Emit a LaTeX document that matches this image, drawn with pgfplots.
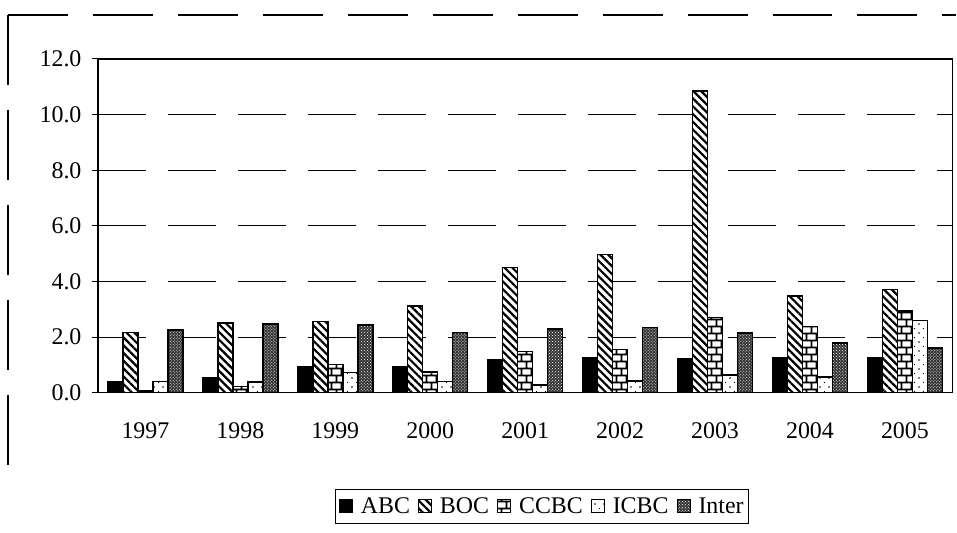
\documentclass[border=0pt]{standalone}
\usepackage{pgfplots}
\pgfplotsset{compat=1.18}
\usepackage{fontspec}
\setmainfont{Liberation Serif}
\usetikzlibrary{patterns,patterns.meta}

\tikzdeclarepattern{
  name=mybricks,
  type=uncolored,
  bounding box={(0,0) and (10bp,14bp)},
  tile size={(10bp,14bp)},
  code={
    \pgfsetlinewidth{1.6bp}
    \pgfpathmoveto{\pgfqpoint{0bp}{3.5bp}}\pgfpathlineto{\pgfqpoint{10bp}{3.5bp}}
    \pgfpathmoveto{\pgfqpoint{0bp}{10.5bp}}\pgfpathlineto{\pgfqpoint{10bp}{10.5bp}}
    \pgfpathmoveto{\pgfqpoint{2.5bp}{3.5bp}}\pgfpathlineto{\pgfqpoint{2.5bp}{10.5bp}}
    \pgfpathmoveto{\pgfqpoint{7.5bp}{10.5bp}}\pgfpathlineto{\pgfqpoint{7.5bp}{14bp}}
    \pgfpathmoveto{\pgfqpoint{7.5bp}{0bp}}\pgfpathlineto{\pgfqpoint{7.5bp}{3.5bp}}
    \pgfusepath{stroke}
  }
}
\tikzdeclarepattern{
  name=sparsedots,
  type=uncolored,
  bounding box={(0,0) and (9bp,9bp)},
  tile size={(9bp,9bp)},
  code={
    \pgfpathcircle{\pgfqpoint{2bp}{2bp}}{0.9bp}
    \pgfpathcircle{\pgfqpoint{6.5bp}{6.5bp}}{0.6bp}
    \pgfusepath{fill}
  }
}

\pgfplotstableread{
x ABC BOC CCBC ICBC Inter
0 0.39 2.17 0.07 0.41 2.26
1 0.55 2.50 0.22 0.39 2.47
2 0.93 2.57 1.02 0.73 2.43
3 0.95 3.12 0.74 0.41 2.16
4 1.19 4.51 1.48 0.28 2.30
5 1.25 4.97 1.55 0.43 2.34
6 1.24 10.85 2.70 0.64 2.15
7 1.25 3.48 2.38 0.57 1.79
8 1.25 3.71 2.94 2.60 1.61
}\datatable

\begin{document}
\begin{tikzpicture}
\begin{axis}[
  at={(0,0)}, anchor=south west,
  scale only axis,
  width=855bp, height=334bp,
  ybar=0pt, bar width=15bp,
  xmin=-0.5, xmax=8.5,
  ymin=0, ymax=12,
  ytick={0,2,...,12},
  xtick={0,...,8},
  xticklabels={1997,1998,1999,2000,2001,2002,2003,2004,2005},
  x tick style={draw=none},
  extra x ticks={0.5,1.5,...,7.5},
  extra x tick labels={},
  extra x tick style={tick style={draw=black, line width=1bp}, major tick length=5bp, tick align=outside, grid=none},
  y tick style={draw=black, line width=1bp},
  major tick length=6bp,
  tick align=outside,
  tick pos=left,
  ymajorgrids,
  major grid style={draw=black, line width=1.2bp, dash pattern=on 48bp off 22bp},
  axis line style={line width=1.3bp},
  tick label style={font=\fontsize{24}{28}\selectfont},
  xticklabel style={yshift=-20bp},
  yticklabel style={xshift=-7bp},
  /pgf/number format/.cd, fixed, fixed zerofill, precision=1, assume math mode=true,
  /pgfplots/.cd,
  every axis plot/.append style={draw=black, line width=1.5bp},
  legend columns=5,
  legend style={
    at={(0.52,-0.341)}, anchor=center,
    draw=black, line width=1bp,
    font=\fontsize{24}{28}\selectfont,
    inner xsep=3bp, inner ysep=6bp,
    /tikz/every even column/.append style={column sep=6bp},
    /tikz/every odd column/.append style={column sep=6bp},
  },
  legend image code/.code={\draw[#1, line width=1bp] (0bp,-5.5bp) rectangle (13bp,7.5bp);},
]
\addplot[fill=black] table[x=x,y=ABC] \datatable;
\addplot[fill=white, postaction={pattern={Lines[angle=-45, distance=5.5bp, line width=2.2bp]}}] table[x=x,y=BOC] \datatable;
\addplot[fill=white, postaction={pattern=mybricks}] table[x=x,y=CCBC] \datatable;
\addplot[fill=white, postaction={pattern=sparsedots}] table[x=x,y=ICBC] \datatable;
\addplot[fill=black!80, postaction={pattern=crosshatch dots, pattern color=white}] table[x=x,y=Inter] \datatable;
\legend{ABC,BOC,CCBC,ICBC,Inter}
\end{axis}
\draw[line width=1.2bp, dash pattern=on 60bp off 25bp] (-90bp,378bp) -- (859bp,378bp);
\draw[line width=1.2bp, dash pattern=on 70bp off 25bp] (-90bp,378bp) -- (-90bp,-85bp);
\useasboundingbox (-98bp,-140bp) rectangle (859bp,393bp);
\end{tikzpicture}
\end{document}
